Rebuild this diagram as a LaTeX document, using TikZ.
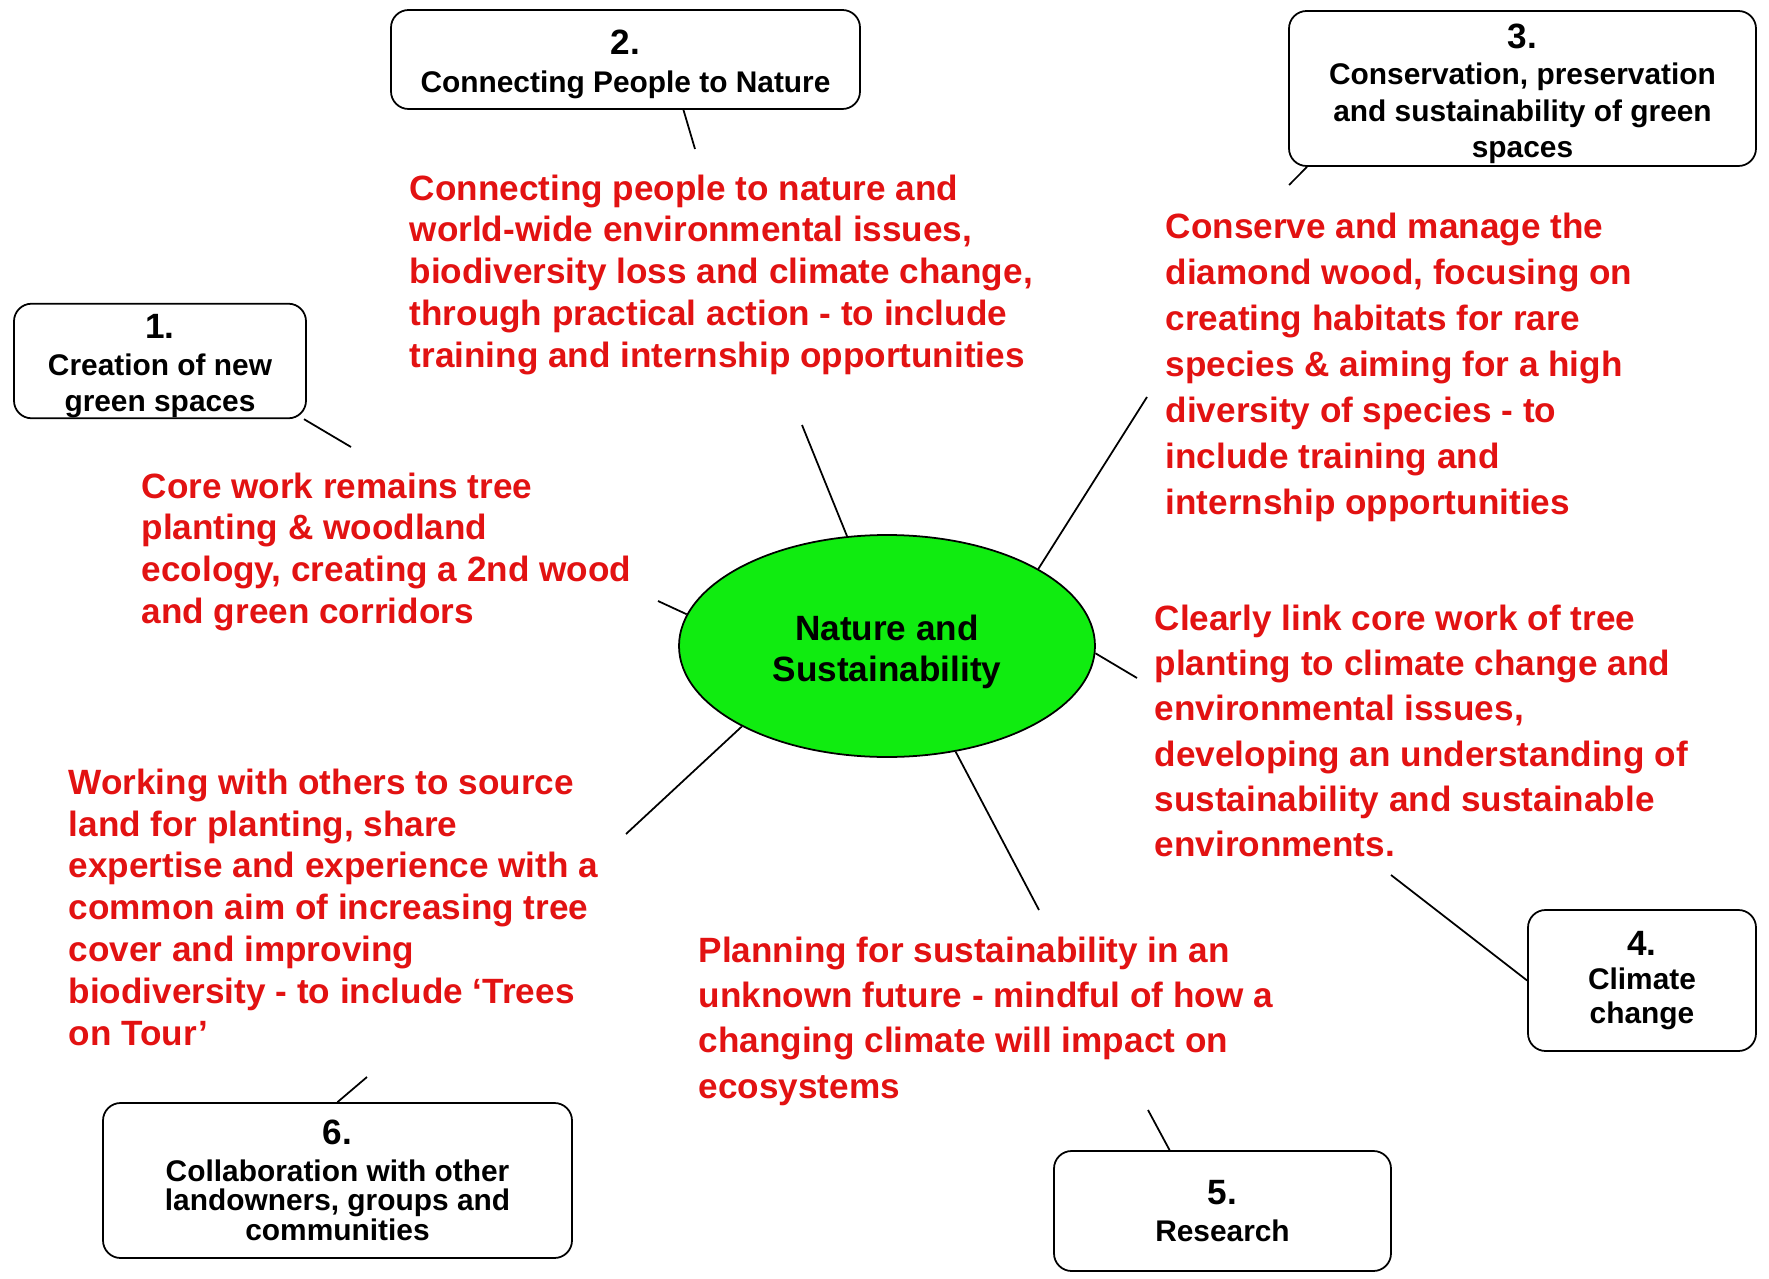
\documentclass[tikz,border=0pt]{standalone}
\usepackage{fontspec}
\setmainfont{Liberation Sans}
\usetikzlibrary{shapes.geometric}
\definecolor{aimred}{RGB}{226,18,18}
\definecolor{hubgreen}{RGB}{16,236,16}
\newcommand{\topicno}[1]{{\fontsize{10}{12}\selectfont #1}}
\newcommand{\lowtop}{\rule{0pt}{10pt}}

\begin{document}
\begin{tikzpicture}[
	topic/.style={draw, rounded corners=5pt, line width=0.5pt, align=center, inner sep=0, font=\bfseries\fontsize{8.5}{10.4}\selectfont},
	aim/.style={anchor=north west, inner sep=0, align=left, text=aimred, font=\bfseries\fontsize{10}{11.9}\selectfont},
	aimwide/.style={aim, font=\bfseries\fontsize{10}{12.9}\selectfont},
	link/.style={line width=0.5pt}]
	\useasboundingbox (0,0) rectangle (17.69,-12.79);

	\node[ellipse, draw, fill=hubgreen, line width=0.5pt, minimum width=4.16cm, minimum height=2.22cm, inner sep=0, align=center, font=\bfseries\fontsize{10}{11.8}\selectfont] (hub) at (8.87,-6.46) {\rule{0pt}{10.5pt}Nature and\\Sustainability};

	\node[topic, minimum width=2.92cm, minimum height=1.10cm] (b1) at (1.60,-3.61) {\lowtop\topicno{1.}\\Creation of new\\green spaces};
	\node[topic, minimum width=4.69cm, minimum height=0.99cm] (b2) at (6.255,-0.595) {\lowtop\topicno{2.}\\[0.4pt]Connecting People to Nature};
	\node[topic, minimum width=4.67cm, minimum height=1.55cm] (b3) at (15.225,-0.885) {\lowtop\topicno{3.}\\Conservation, preservation\\and sustainability of green\\spaces};
	\node[topic, minimum width=2.28cm, minimum height=1.41cm] (b4) at (16.42,-9.805) {\topicno{4.}\\[-0.7pt]Climate\\[-0.7pt]change};
	\node[topic, minimum width=3.37cm, minimum height=1.20cm] (b5) at (12.225,-12.11) {\topicno{5.}\\Research};
	\node[topic, minimum width=4.69cm, minimum height=1.55cm] (b6) at (3.375,-11.805) {\topicno{6.}\\Collaboration with other\\[-1.9pt]landowners, groups and\\[-1.9pt]communities};

	\node[aim] (t1) at (1.41,-4.72) {Core work remains tree\\planting \& woodland\\ecology, creating a 2nd wood\\and green corridors};
	\node[aim] (t2) at (4.09,-1.74) {Connecting people to nature and\\world-wide environmental issues,\\biodiversity loss and climate change,\\through practical action - to include\\training and internship opportunities};
	\node[aimwide, font=\bfseries\fontsize{10}{13.1}\selectfont] (t3) at (11.65,-2.12) {Conserve and manage the\\diamond wood, focusing on\\creating habitats for rare\\species \& aiming for a high\\diversity of species - to\\include training and\\internship opportunities};
	\node[aimwide] (t4) at (11.54,-6.04) {Clearly link core work of tree\\planting to climate change and\\environmental issues,\\developing an understanding of\\sustainability and sustainable\\environments.};
	\node[aimwide] (t5) at (6.98,-9.36) {Planning for sustainability in an\\unknown future - mindful of how a\\changing climate will impact on\\ecosystems};
	\node[aim] (t6) at (0.68,-7.68) {Working with others to source\\land for planting, share\\expertise and experience with a\\common aim of increasing tree\\cover and improving\\biodiversity - to include `Trees\\on Tour'};

	\coordinate (c1) at (3.51,-4.47); \coordinate (h1) at (6.58,-6.01);
	\coordinate (c2) at (6.95,-1.49); \coordinate (h2) at (8.02,-4.25);
	\coordinate (c3) at (12.89,-1.85); \coordinate (h3) at (11.47,-3.97);
	\coordinate (c4) at (13.91,-8.75); \coordinate (h4) at (11.37,-6.78);
	\coordinate (c5) at (11.48,-11.10); \coordinate (h5) at (10.39,-9.10);
	\coordinate (c6) at (3.67,-10.77); \coordinate (h6) at (6.26,-8.34);

	\draw[link] (b1.-22.8) -- (c1); \draw[link] (hub.171.4) -- (h1);
	\draw[link] (b2.-41.7) -- (c2); \draw[link] (hub.110.6) -- (h2);
	\draw[link] (b3.-160.6) -- (c3); \draw[link] (hub.27.9) -- (h3);
	\draw[link] (b4.west) -- (c4); \draw[link] (hub.-2) -- (h4);
	\draw[link] (b5.131.7) -- (c5); \draw[link] (hub.-57.8) -- (h5);
	\draw[link] (b6.north) -- (c6); \draw[link] (hub.-151.6) -- (h6);
\end{tikzpicture}
\end{document}
